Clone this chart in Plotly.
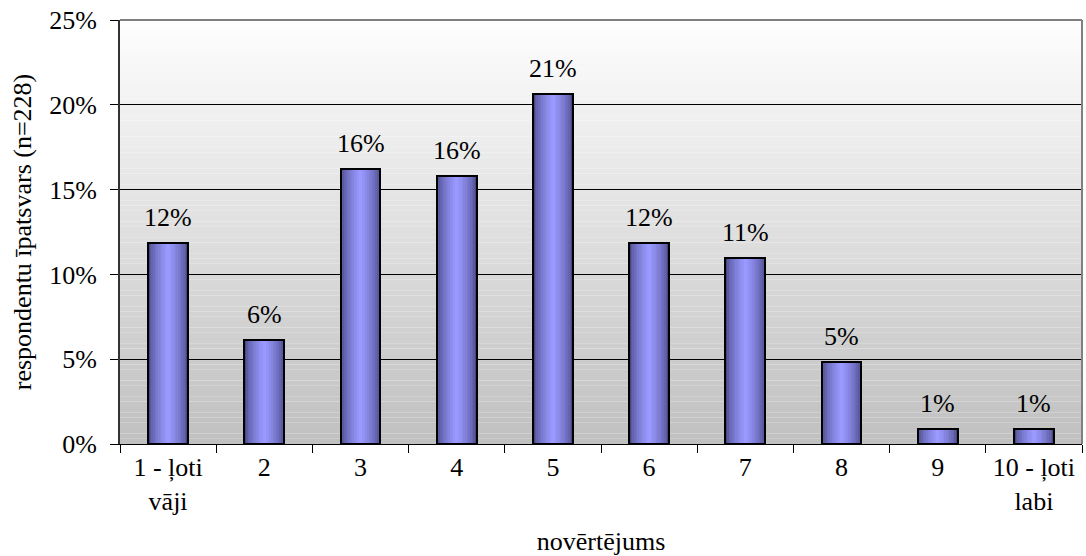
import plotly.graph_objects as go

# Survey: distribution of ratings (n=228)
categories = ["1 - ļoti<br>vāji", "2", "3", "4", "5", "6", "7", "8", "9", "10 - ļoti<br>labi"]
counts = [27, 14, 37, 36, 47, 27, 25, 11, 2, 2]
n_total = 228
shares = [c / n_total for c in counts]

y_ticks = [0, 0.05, 0.10, 0.15, 0.20, 0.25]

FONT = "Liberation Serif"
FS = 26
BAR_W = 0.415

fig = go.Figure()

# Horizontal shading of bars: strips from dark edge to light centre
levels = 12
dark = (70, 70, 130)
light = (153, 153, 255)
for k in range(levels):
    t = (k / (levels - 1)) ** 0.6
    col = tuple(round(dark[i] + (light[i] - dark[i]) * t) for i in range(3))
    fig.add_trace(go.Bar(
        x=categories, y=shares,
        width=BAR_W * (1 - k / levels),
        marker=dict(color="rgb(%d,%d,%d)" % col, line=dict(width=0)),
        hoverinfo="skip", showlegend=False,
    ))

# Outline
fig.add_trace(go.Bar(
    x=categories, y=shares, width=BAR_W,
    marker=dict(color="rgba(0,0,0,0)", line=dict(color="black", width=2)),
    showlegend=False,
))

# Value labels above bars (category index as x position)
for idx, val in enumerate(shares):
    fig.add_annotation(x=idx, y=val, text=f"{val:.0%}", showarrow=False,
                       yanchor="bottom", yshift=9,
                       font=dict(family=FONT, size=FS, color="black"))

# Vertical gradient of the plotting area, white at top to grey at bottom
shapes = []
bands = 80
for i in range(bands):
    t = i / bands
    v = round(192 + (254 - 192) * (t + 0.5 / bands))
    shapes.append(dict(type="rect", xref="paper", yref="paper",
                       x0=0, x1=1, y0=t, y1=(i + 1) / bands,
                       fillcolor="rgb(%d,%d,%d)" % (v, v, v),
                       line=dict(width=0), layer="below"))
# Grey frame on top and right
shapes.append(dict(type="line", xref="paper", yref="paper", x0=0, x1=1, y0=1, y1=1,
                   line=dict(color="#808080", width=2), layer="above"))
shapes.append(dict(type="line", xref="paper", yref="paper", x0=1, x1=1, y0=0, y1=1,
                   line=dict(color="#808080", width=2), layer="above"))

fig.update_layout(
    width=1086, height=556,
    margin=dict(l=120, r=4, t=20, b=112),
    paper_bgcolor="white", plot_bgcolor="rgba(0,0,0,0)",
    barmode="overlay", bargap=0,
    font=dict(family=FONT, size=FS, color="black"),
    shapes=shapes,
    xaxis=dict(
        type="category", tickson="boundaries", ticks="outside", ticklen=8,
        tickcolor="black", tickwidth=1, showline=True, linecolor="black", linewidth=1,
        showgrid=False, tickfont=dict(family=FONT, size=FS),
        title=dict(text="novērtējums", font=dict(family=FONT, size=FS), standoff=16),
    ),
    yaxis=dict(
        range=[0, 0.25], tickvals=y_ticks, tickformat=".0%",
        ticks="outside", ticklen=8, tickcolor="black", ticklabelstandoff=8,
        showline=True, linecolor="#333333", linewidth=2,
        showgrid=True, gridcolor="black", gridwidth=1, zeroline=False,
        tickfont=dict(family=FONT, size=FS),
        title=dict(text="respondentu īpatsvars (n=228)", font=dict(family=FONT, size=FS), standoff=10),
    ),
)

fig.write_html("out.html")
